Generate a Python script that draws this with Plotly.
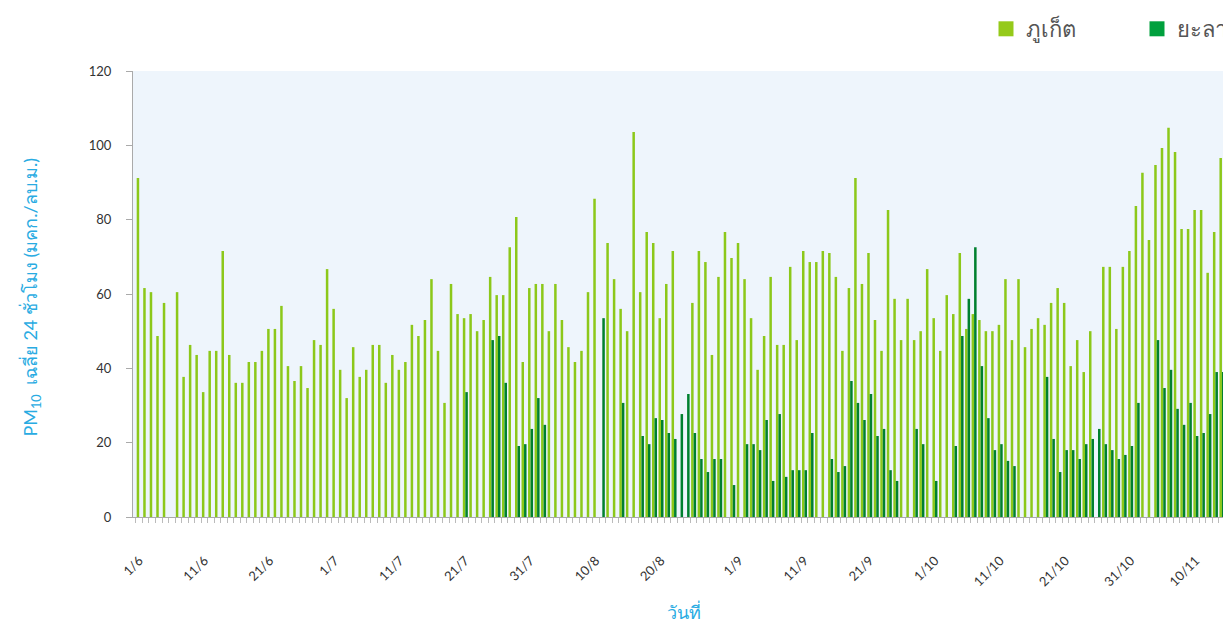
import datetime as dt
import plotly.graph_objects as go

# ---------------- data ----------------
start = dt.date(2019, 6, 1)
n_days = 168
date_labels = [f"{(start + dt.timedelta(days=i)).day}/{(start + dt.timedelta(days=i)).month}" for i in range(n_days)]

tick_labels = ["1/6", "11/6", "21/6", "1/7", "11/7", "21/7", "31/7", "10/8", "20/8",
               "1/9", "11/9", "21/9", "1/10", "11/10", "21/10", "31/10", "10/11"]

phuket = [
    91.2, 61.6, 60.5, 48.7, 57.6, None, 60.5, 37.7, 46.3, 43.6,
    33.6, 44.7, 44.7, 71.6, 43.6, 36.1, 36.1, 41.7, 41.7, 44.7,
    50.6, 50.6, 56.8, 40.6, 36.6, 40.6, 34.7, 47.6, 46.3, 66.7,
    56.0, 39.6, 32.0, 45.7, 37.7, 39.6, 46.3, 46.3, 36.1, 43.6,
    39.6, 41.7, 51.7, 48.7, 53.0, 64.0, 44.7, 30.7, 62.7, 54.6,
    53.5, 54.6, 50.0, 53.0, 64.6, 59.7, 59.7, 72.6, 80.7, 41.7,
    61.6, 62.7, 62.7, 50.0, 62.7, 53.0, 45.7, 41.7, 44.7, 60.5,
    85.6, None, 73.7, 64.0, 56.0, 50.0, 103.6, 60.5, 76.7, 73.7,
    53.5, 62.7, 71.6, None, None, 57.6, 71.6, 68.6, 43.6, 64.6,
    76.7, 69.7, 73.7, 64.0, 53.5, 39.6, 48.7, 64.6, 46.3, 46.3,
    67.3, 47.6, 71.6, 68.6, 68.6, 71.6, 71.0, 64.6, 44.7, 61.6,
    91.2, 62.7, 71.0, 53.0, 44.7, 82.6, 58.7, 47.6, 58.7, 47.6,
    50.0, 66.7, 53.5, 44.7, 59.7, 54.6, 71.0, 50.6, 54.6, 53.0,
    50.0, 50.0, 51.7, 64.0, 47.6, 64.0, 45.7, 50.6, 53.5, 51.7,
    57.6, 61.6, 57.6, 40.6, 47.6, 39.0, 50.0, None, 67.3, 67.3,
    50.6, 67.3, 71.6, 83.7, 92.6, 74.5, 94.7, 99.3, 104.7, 98.2,
    77.5, 77.5, 82.6, 82.6, 65.7, 76.7, 96.6, None,
]

yala = [
    None, None, None, None, None, None, None, None, None, None,
    None, None, None, None, None, None, None, None, None, None,
    None, None, None, None, None, None, None, None, None, None,
    None, None, None, None, None, None, None, None, None, None,
    None, None, None, None, None, None, None, None, None, None,
    33.6, None, None, None, 47.6, 48.7, 36.1, None, 19.1, 19.6,
    23.7, 32.0, 24.8, None, None, None, None, None, None, None,
    None, 53.5, None, None, 30.7, None, None, 21.8, 19.6, 26.6,
    26.1, 22.6, 21.0, 27.7, 33.1, 22.6, 15.6, 12.1, 15.6, 15.6,
    None, 8.6, None, 19.6, 19.6, 18.0, 26.1, 9.7, 27.7, 10.8,
    12.6, 12.6, 12.6, 22.6, None, None, 15.6, 12.1, 13.7, 36.6,
    30.7, 26.1, 33.1, 21.8, 23.7, 12.6, 9.7, None, None, 23.7,
    19.6, None, 9.7, None, None, 19.1, 48.7, 58.7, 72.6, 40.6,
    26.6, 18.0, 19.6, 15.1, 13.7, None, None, None, None, 37.7,
    21.0, 12.1, 18.0, 18.0, 15.6, 19.6, 21.0, 23.7, 19.6, 18.0,
    15.6, 16.7, 19.1, 30.7, None, None, 47.6, 34.7, 39.6, 29.1,
    24.8, 30.7, 21.8, 22.6, 27.7, 39.0, 39.0, 16.7,
]

series_names = ["ภูเก็ต", "ยะลา"]

# ---------------- styles ----------------
PHUKET_BAR = "#8cc81a"
YALA_BAR = "#00802f"
PHUKET_LEG = "#95ca1a"
YALA_LEG = "#00a03d"
BLUE = "#29abe2"
FONT = "Lato, 'Noto Sans', sans-serif"

idx = list(range(n_days))
tickvals = [date_labels.index(t) for t in tick_labels]

fig = go.Figure()
fig.add_trace(go.Bar(x=idx, y=phuket, name=series_names[0], marker_color=PHUKET_BAR,
                     marker_line_width=0, showlegend=False, customdata=date_labels,
                     hovertemplate="%{customdata}: %{y}<extra>" + series_names[0] + "</extra>"))
fig.add_trace(go.Bar(x=idx, y=yala, name=series_names[1], marker_color=YALA_BAR,
                     marker_line_width=0, showlegend=False, customdata=date_labels,
                     hovertemplate="%{customdata}: %{y}<extra>" + series_names[1] + "</extra>"))
# legend entries (one legend box per series, placed side by side)
for nm, col, lg in zip(series_names, [PHUKET_LEG, YALA_LEG], ["legend", "legend2"]):
    fig.add_trace(go.Scatter(x=[None], y=[None], mode="markers", name=nm, legend=lg,
                             marker=dict(symbol="square", size=15, color=col)))

leg_common = dict(orientation="h", y=1, yanchor="top", xanchor="left",
                  yref="container", xref="container",
                  font=dict(size=22, color="#555555"),
                  itemsizing="trace", bgcolor="rgba(0,0,0,0)")

fig.update_layout(
    width=1231, height=622,
    margin=dict(l=125, r=4, t=63, b=113),
    paper_bgcolor="white",
    plot_bgcolor="#eef5fc",
    barmode="group", bargap=0.23, bargroupgap=0,
    font=dict(family=FONT, size=13, color="#333333"),
    legend=dict(x=978 / 1231, entrywidth=80, **leg_common),
    legend2=dict(x=1129 / 1231, entrywidth=60, **leg_common),
    showlegend=True,
)
fig.update_xaxes(
    range=[-0.95, 168.0], tickmode="array", tickvals=tickvals, ticktext=tick_labels,
    tickangle=-45, ticks="", showgrid=False, zeroline=False,
    showline=True, linecolor="#aaaaaa", linewidth=1,
    tickfont=dict(size=13, color="#333333"), ticklabelstandoff=30,
    minor=dict(tick0=-0.5, dtick=1, ticks="outside", ticklen=5, tickcolor="#bbbbbb", showgrid=False),
    title=dict(text="วันที่", font=dict(size=18, color=BLUE), standoff=18),
)
fig.update_yaxes(
    range=[0, 120], dtick=20, ticks="outside", ticklen=6, tickcolor="#aaaaaa",
    showgrid=False, zeroline=False, showline=True, linecolor="#aaaaaa", linewidth=1,
    tickfont=dict(size=13, color="#333333"), ticklabelstandoff=12,
)
fig.add_annotation(
    text="PM<sub>10</sub>  เฉลี่ย 24 ชั่วโมง (มคก./ลบ.ม.)",
    textangle=-90, xref="paper", yref="paper", x=-102 / 1102, y=0.492,
    xanchor="center", yanchor="middle", showarrow=False,
    font=dict(size=18, color=BLUE, family=FONT),
)

fig.write_html("out.html")
